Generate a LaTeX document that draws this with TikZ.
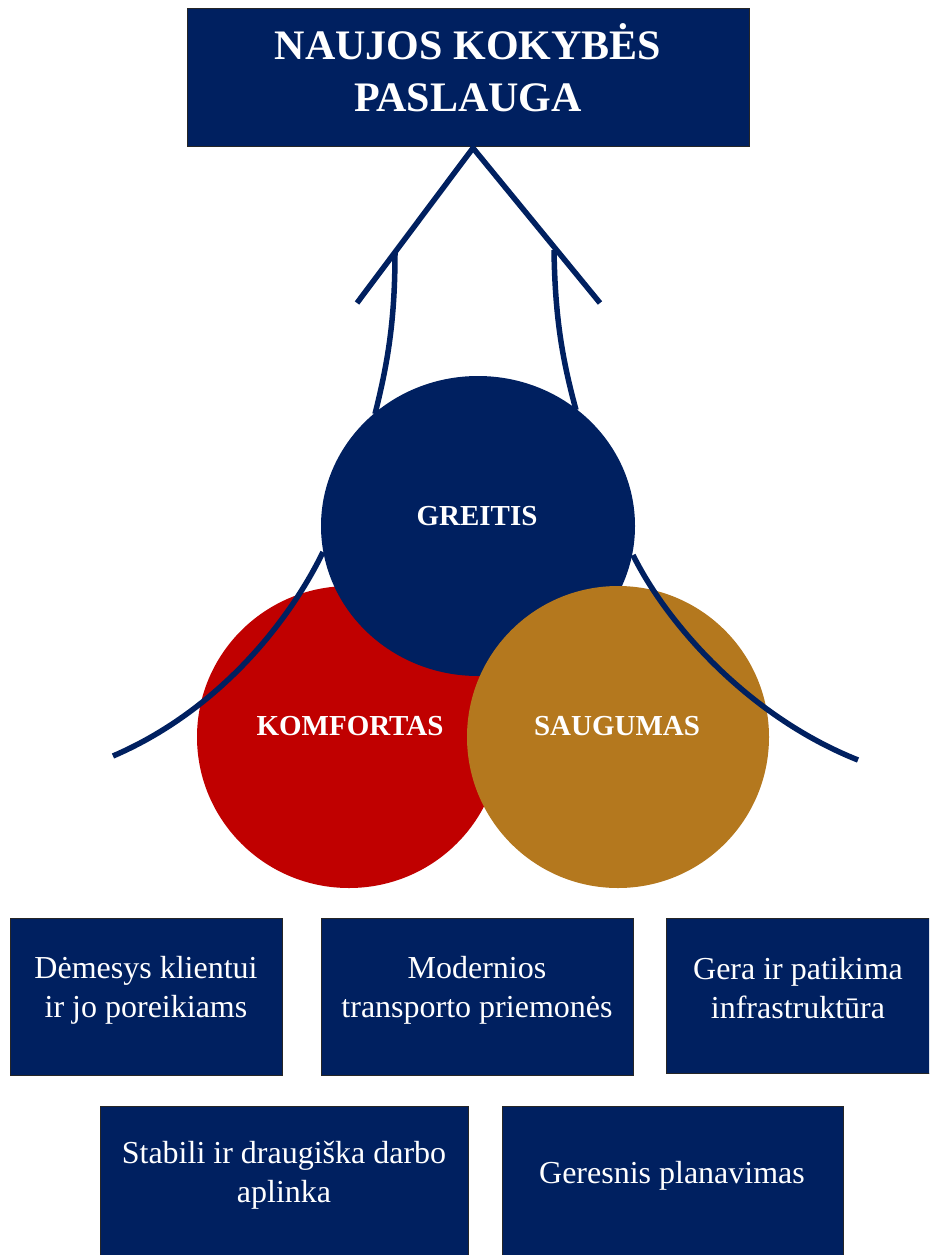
\documentclass[tikz,border=0pt]{standalone}
\usepackage{fontspec}
\setmainfont{Liberation Serif}
\usetikzlibrary{shapes.geometric}
\definecolor{navy}{HTML}{002060}
\definecolor{darkred}{HTML}{C00000}
\definecolor{gold}{HTML}{B4781E}
\begin{document}
\begin{tikzpicture}[x=1pt,y=-1pt,
  box/.style={draw=black!85, line width=1pt, fill=navy, anchor=north west, inner sep=0pt},
  boxtext/.style={text=white, align=center, inner sep=0pt, font=\fontsize{32}{39}\selectfont},
  titletext/.style={text=white, align=center, inner sep=0pt, font=\bfseries\fontsize{42}{52}\selectfont},
  circ/.style={ellipse, inner sep=0pt},
  circtext/.style={text=white, inner sep=0pt, font=\bfseries\fontsize{29}{34}\selectfont},
  arr/.style={draw=navy, line width=5.5pt, line join=miter}]
\clip (0,0) rectangle (929,1255);

% title
\node[box, minimum width=562pt, minimum height=138pt] (title) at (187,8) {};
\node[titletext] (titlet) at (468,68) {NAUJOS KOKYBĖS\\PASLAUGA};

% circles
\node[circ, fill=darkred, minimum width=304pt, minimum height=302pt] (komf) at (349,737) {};
\node[circ, fill=navy, minimum width=314pt, minimum height=300pt] (greit) at (478,526) {};
\node[circ, fill=gold, minimum width=302pt, minimum height=302pt] (saug) at (618,737) {};
\node[circtext] (komft) at (350,726) {KOMFORTAS};
\node[circtext] (greitt) at (477,516) {GREITIS};
\node[circtext] (saugt) at (617,726) {SAUGUMAS};

% arrow coordinates
\coordinate (apex) at (473,148);
\coordinate (hl) at (357,303);
\coordinate (hr) at (600,303);
\coordinate (sl) at (395,252);
\coordinate (sr) at (554,250);
\coordinate (bl) at (375,414);
\coordinate (br) at (576,410);
\coordinate (ol) at (323,552);
\coordinate (or) at (633,555);
\coordinate (el) at (113,756);
\coordinate (er) at (858,760);

\draw[arr] (hl) -- (apex) -- (hr);
\draw[arr] (sl) .. controls (395,320) and (388,362) .. (bl);
\draw[arr] (sr) .. controls (555,320) and (563,362) .. (br);
\draw[arr] (ol) .. controls (290,620) and (220,710) .. (el);
\draw[arr] (or) .. controls (665,620) and (745,715) .. (er);

% boxes
\node[box, minimum width=272pt, minimum height=157pt] (b1) at (10,918) {};
\node[box, minimum width=312pt, minimum height=157pt] (b2) at (321,918) {};
\node[box, minimum width=270pt, minimum height=155pt] (b3) at (666,918) {};
\node[box, minimum width=368pt, minimum height=170pt] (b4) at (100,1106) {};
\node[box, minimum width=341pt, minimum height=170pt] (b5) at (502,1106) {};

\node[boxtext] (t1) at (146,990) {Dėmesys klientui\\ir jo poreikiams};
\node[boxtext] (t2) at (477,990) {Modernios\\transporto priemonės};
\node[boxtext] (t3) at (798,988) {Gera ir patikima\\infrastruktūra};
\node[boxtext] (t4) at (284,1175) {Stabili ir draugiška darbo\\aplinka};
\node[boxtext] (t5) at (672,1176) {Geresnis planavimas};
\end{tikzpicture}
\end{document}
